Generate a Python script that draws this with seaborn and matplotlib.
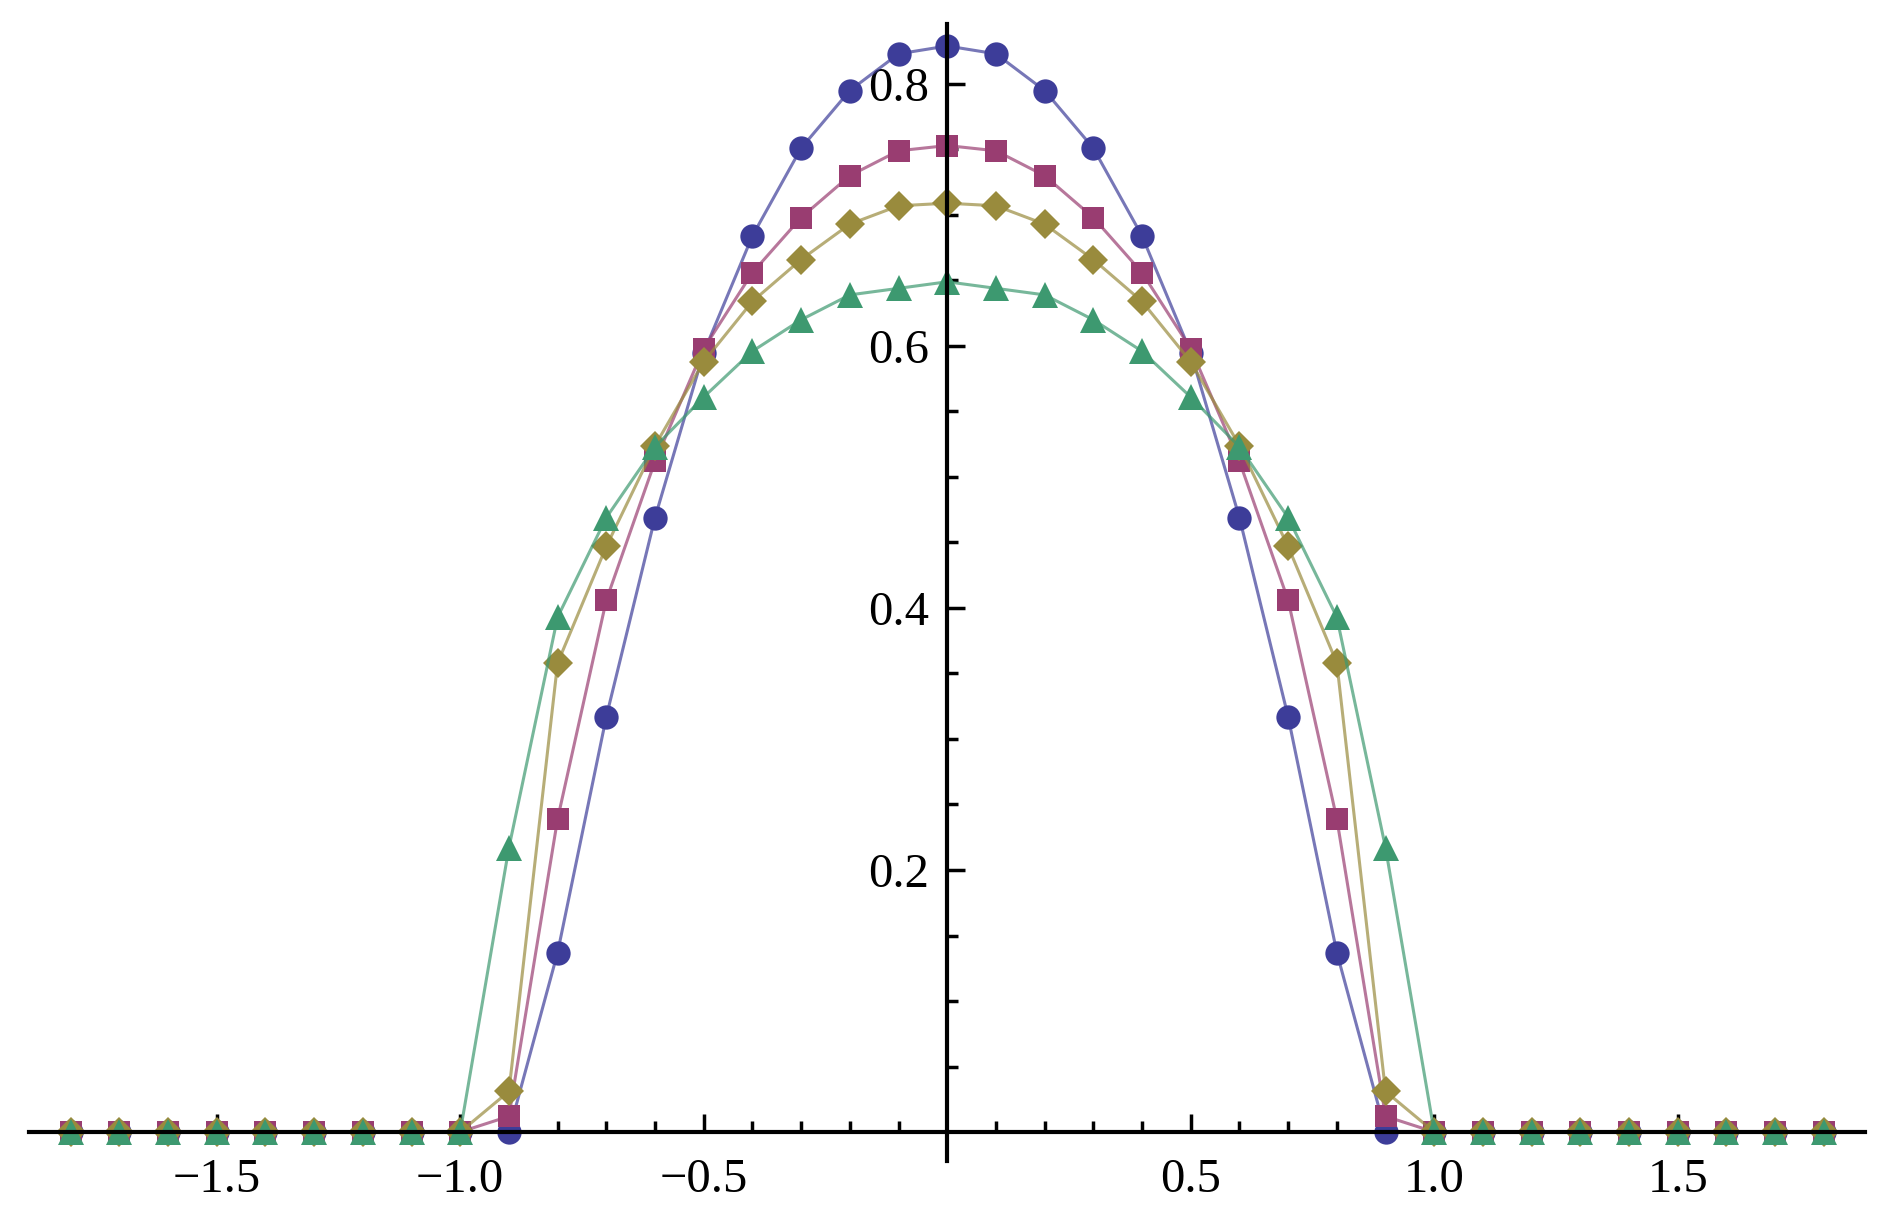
import numpy as np
import seaborn as sns
import matplotlib.pyplot as plt
from matplotlib.ticker import FixedLocator, FuncFormatter

# sample positions, -1.8 .. 1.8 step 0.1
x = np.round(np.arange(-18, 19) / 10, 1)

# four profiles
blue = [0, 0, 0, 0, 0, 0, 0, 0, 0,
        0.0, 0.137, 0.317, 0.469, 0.595, 0.684, 0.751, 0.795, 0.823,
        0.829,
        0.823, 0.795, 0.751, 0.684, 0.595, 0.469, 0.317, 0.137, 0.0,
        0, 0, 0, 0, 0, 0, 0, 0, 0]
magenta = [0, 0, 0, 0, 0, 0, 0, 0, 0,
           0.012, 0.239, 0.406, 0.512, 0.598, 0.656, 0.698, 0.730, 0.749,
           0.753,
           0.749, 0.730, 0.698, 0.656, 0.598, 0.512, 0.406, 0.239, 0.012,
           0, 0, 0, 0, 0, 0, 0, 0, 0]
gold = [0, 0, 0, 0, 0, 0, 0, 0, 0,
        0.031, 0.358, 0.447, 0.524, 0.588, 0.634, 0.666, 0.693, 0.707,
        0.709,
        0.707, 0.693, 0.666, 0.634, 0.588, 0.524, 0.447, 0.358, 0.031,
        0, 0, 0, 0, 0, 0, 0, 0, 0]
green = [0, 0, 0, 0, 0, 0, 0, 0, 0,
         0.217, 0.393, 0.469, 0.523, 0.561, 0.596, 0.620, 0.639, 0.644,
         0.649,
         0.644, 0.639, 0.620, 0.596, 0.561, 0.523, 0.469, 0.393, 0.217,
         0, 0, 0, 0, 0, 0, 0, 0, 0]

x_major = [-1.5, -1.0, -0.5, 0.5, 1.0, 1.5]
y_major = [0.2, 0.4, 0.6, 0.8]

sns.set_style("white")
plt.rcParams['font.family'] = ['Liberation Serif', 'DejaVu Serif']

fig = plt.figure(figsize=(18.92, 12.30), dpi=100)
ax = fig.add_axes([0, 0, 1, 1])

series = [
    (blue, "#3d3d99", "o", 17.5),
    (magenta, "#993d71", "s", 16.5),
    (gold, "#998b3d", "D", 15.5),
    (green, "#3d9970", "^", 18.5),
]
for ys, col, mk, ms in series:
    sns.lineplot(x=x, y=ys, ax=ax, color=col, lw=2.2, alpha=0.7)
    sns.lineplot(x=x, y=ys, ax=ax, color=col, marker=mk, markersize=ms,
                 markeredgewidth=0, linestyle='none')

ax.set_xlim(-1.945, 1.940)
ax.set_ylim(-0.0748, 0.8641)

# Mathematica-like axes crossing at the origin
for s in ['top', 'right']:
    ax.spines[s].set_visible(False)
ax.spines['left'].set_position(('data', 0))
ax.spines['bottom'].set_position(('data', 0))
ax.spines['bottom'].set_bounds(-1.885, 1.885)
ax.spines['left'].set_bounds(-0.022, 0.846)
for s in ['left', 'bottom']:
    ax.spines[s].set_linewidth(3)
    ax.spines[s].set_color('black')
    ax.spines[s].set_zorder(5)

ax.xaxis.set_major_locator(FixedLocator(x_major))
x_minor = [v / 10 for v in range(-18, 19) if v % 5 != 0]
ax.xaxis.set_minor_locator(FixedLocator(x_minor))
ax.yaxis.set_major_locator(FixedLocator(y_major))
y_minor = [v / 100 for v in range(5, 85, 5) if v % 20 != 0]
ax.yaxis.set_minor_locator(FixedLocator(y_minor))

fmt = FuncFormatter(lambda v, p: f"{v:.1f}".replace("-", "\u2212"))
ax.xaxis.set_major_formatter(fmt)
ax.yaxis.set_major_formatter(fmt)

ax.tick_params(which='both', direction='in', color='black', width=2.5,
               bottom=True, left=True, top=False, right=False)
ax.tick_params(which='major', length=13, labelsize=35, labelcolor='black')
ax.tick_params(which='minor', length=8)
ax.tick_params(axis='x', which='major', pad=19)
ax.tick_params(axis='y', which='major', pad=13)

ax.set_xlabel("")
ax.set_ylabel("")
ax.grid(False)

fig.savefig("out.png", dpi=100)
